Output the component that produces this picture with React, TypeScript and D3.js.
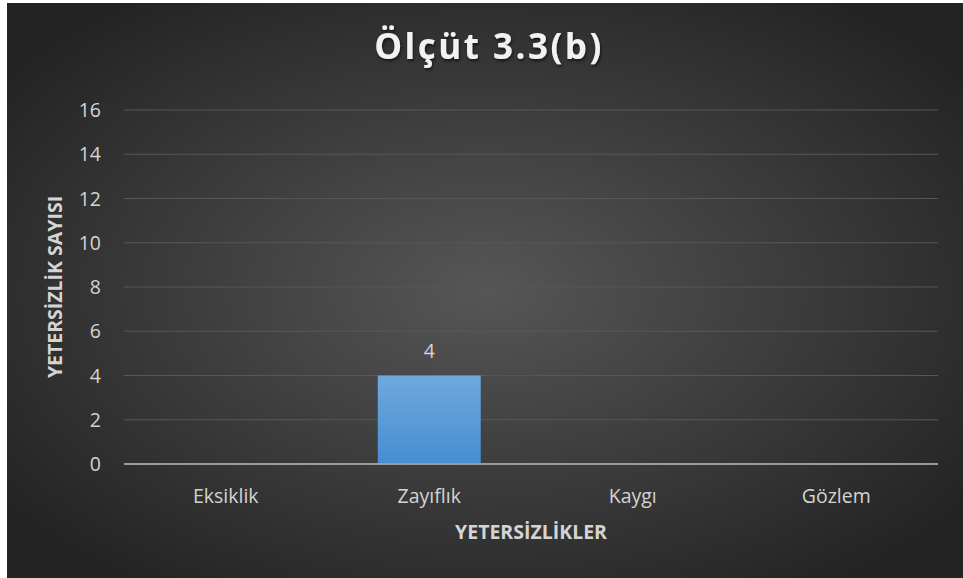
import React from "react";
import * as d3 from "d3";

const categories = ["Eksiklik", "Zayıflık", "Kaygı", "Gözlem"];
const values = [0, 4, 0, 0];
const yTicks = [0, 2, 4, 6, 8, 10, 12, 14, 16];
const title = "Ölçüt 3.3(b)";
const xTitle = "YETERSİZLİKLER";
const yTitle = "YETERSİZLİK SAYISI";

const W = 963;
const H = 578;
const plot = { left: 124, right: 938, top: 110, bottom: 464 };
const FONT = "'Open Sans', 'DejaVu Sans', sans-serif";

export default function App() {
  const x = d3
    .scaleBand<string>()
    .domain(categories)
    .range([plot.left, plot.right])
    .paddingInner(0.494)
    .paddingOuter(0.247);
  const band = d3.scaleBand<string>().domain(categories).range([plot.left, plot.right]);
  const y = d3.scaleLinear().domain([0, 16]).range([plot.bottom, plot.top]);

  return (
    <svg
      width={W}
      height={H}
      style={{ position: "absolute", left: 0, top: 0, display: "block" }}
    >
      <defs>
        <radialGradient id="bg" cx="50%" cy="50%" r="62%" fx="50%" fy="50%">
          <stop offset="0%" stopColor="#565656" />
          <stop offset="100%" stopColor="#242424" />
        </radialGradient>
        <linearGradient id="bar" x1="0" y1="0" x2="0" y2="1">
          <stop offset="0%" stopColor="#6fa9de" />
          <stop offset="100%" stopColor="#468dd2" />
        </linearGradient>
        <filter id="shadow" x="-10%" y="-30%" width="120%" height="160%">
          <feDropShadow dx="1" dy="2" stdDeviation="1.5" floodColor="#000" floodOpacity="0.6" />
        </filter>
      </defs>
      <rect x={0} y={0} width={W} height={H} fill="#ffffff" />
      <rect x={7} y={3} width={W - 7} height={H - 3} fill="url(#bg)" />

      {/* gridlines */}
      {yTicks
        .filter((t) => t !== 0)
        .map((t) => (
          <line
            key={t}
            x1={plot.left}
            x2={plot.right}
            y1={y(t)}
            y2={y(t)}
            stroke="#575757"
            strokeWidth={1.2}
          />
        ))}

      {/* y tick labels */}
      {yTicks.map((t) => (
        <text
          key={"l" + t}
          x={101}
          y={y(t)}
          dy="0.36em"
          textAnchor="end"
          fontFamily={FONT}
          fontSize={19.5}
          fill="#d4d4d4"
        >
          {t}
        </text>
      ))}

      {/* bars */}
      {categories.map((c, i) =>
        values[i] > 0 ? (
          <g key={"b" + c}>
            <rect
              x={x(c)}
              y={y(values[i])}
              width={x.bandwidth()}
              height={y(0) - y(values[i])}
              fill="url(#bar)"
            />
            <text
              x={(x(c) as number) + x.bandwidth() / 2}
              y={y(values[i]) - 18}
              textAnchor="middle"
              fontFamily={FONT}
              fontSize={19.5}
              fill="#d4d4d4"
            >
              {values[i]}
            </text>
          </g>
        ) : null
      )}

      {/* zero axis */}
      <line
        x1={plot.left}
        x2={plot.right}
        y1={y(0)}
        y2={y(0)}
        stroke="#9b9b9b"
        strokeWidth={2}
      />

      {/* category labels */}
      {categories.map((c) => (
        <text
          key={"c" + c}
          x={(band(c) as number) + band.bandwidth() / 2}
          y={503}
          textAnchor="middle"
          fontFamily={FONT}
          fontSize={19.5}
          fill="#d4d4d4"
        >
          {c}
        </text>
      ))}

      {/* axis titles */}
      <text
        x={(plot.left + plot.right) / 2}
        y={539}
        textAnchor="middle"
        fontFamily={FONT}
        fontWeight="bold"
        fontSize={19.5}
        fill="#d4d4d4"
      >
        {xTitle}
      </text>
      <text
        transform={`translate(62, ${(plot.top + plot.bottom) / 2}) rotate(-90)`}
        textAnchor="middle"
        fontFamily={FONT}
        fontWeight="bold"
        fontSize={19.5}
        fill="#d4d4d4"
      >
        {yTitle}
      </text>

      {/* title */}
      <text
        x={489}
        y={59}
        textAnchor="middle"
        fontFamily={FONT}
        fontWeight="bold"
        fontSize={35}
        letterSpacing={2.5}
        fill="#f2f2f2"
        filter="url(#shadow)"
      >
        {title}
      </text>
    </svg>
  );
}
